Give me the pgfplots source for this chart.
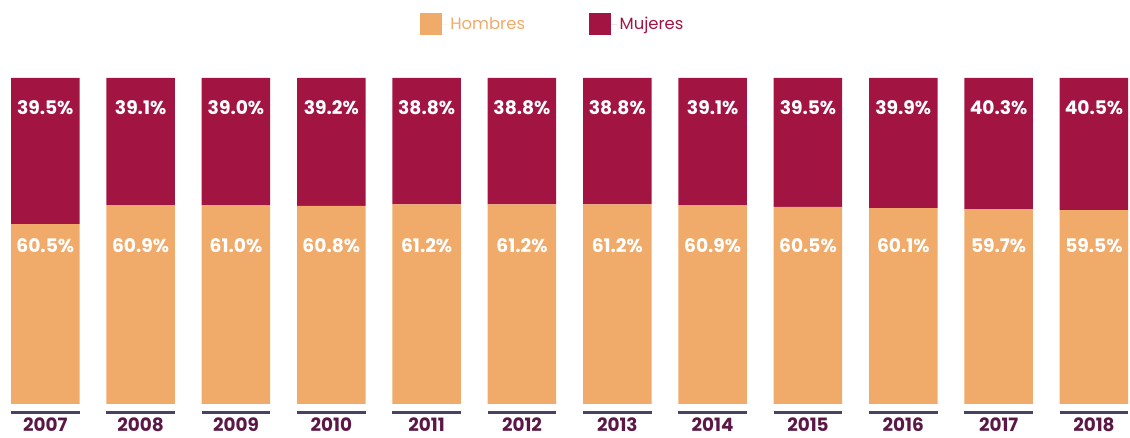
\documentclass[border=0pt]{standalone}
\usepackage{pgfplots}
\usepackage{pgfplotstable}
\pgfplotsset{compat=1.18}
\usepackage{fontspec}
\setmainfont{Poppins}
\definecolor{hom}{HTML}{F0AA6A}
\definecolor{muj}{HTML}{A21441}
\definecolor{yearc}{HTML}{5B1846}
\definecolor{linec}{HTML}{4A4262}
\pgfplotstableread{
x year h m hl ml lh lm
0 2007 55.2 44.8 60.5 39.5 46.6 88.9
1 2008 60.9 39.1 60.9 39.1 46.6 88.9
2 2009 61.0 39.0 61.0 39.0 46.6 88.9
3 2010 60.8 39.2 60.8 39.2 46.6 88.9
4 2011 61.2 38.8 61.2 38.8 46.6 88.9
5 2012 61.2 38.8 61.2 38.8 46.6 88.9
6 2013 61.2 38.8 61.2 38.8 46.6 88.9
7 2014 60.9 39.1 60.9 39.1 46.6 88.9
8 2015 60.5 39.5 60.5 39.5 46.6 88.9
9 2016 60.1 39.9 60.1 39.9 46.6 88.9
10 2017 59.7 40.3 59.7 40.3 46.6 88.9
11 2018 59.5 40.5 59.5 40.5 46.6 88.9
}\datatable
\begin{document}
\begin{tikzpicture}
\useasboundingbox (0,-25.5pt) rectangle (847.5pt,303pt);
\pgfplotsset{
  common/.style={
    at={(0,0)}, anchor=south west,
    scale only axis, width=847.5pt, height=244.5pt,
    xmin=-0.475, xmax=11.378, ymin=0, ymax=100,
    axis line style={draw=none}, major tick length=0pt,
    ytick=\empty, clip=false,
  }
}
\begin{axis}[common,
  ybar stacked, bar width=51.4pt,
  xtick=data, xticklabels from table={\datatable}{year},
  xticklabel style={anchor=base, inner sep=0pt, yshift=-20.6pt, font=\bfseries\fontsize{13.8}{16}\selectfont, text=yearc},
  legend columns=2,
  legend style={draw=none, fill=none, inner sep=0pt, at={(rel axis cs:0.3712,1.1994)}, anchor=north west,
    font=\fontsize{12.3}{15}\selectfont,
    /tikz/every even column/.append style={column sep=46pt}},
  legend image code/.code={\fill[#1] (0pt,-8.25pt) rectangle (16.5pt,8.25pt); \path (0pt,0pt) -- (21pt,0pt);},
]
\addplot[fill=hom, draw=none] table[x=x, y=h] {\datatable};
\addlegendentry{\textcolor{hom}{Hombres}}
\addplot[fill=muj, draw=none] table[x=x, y=m] {\datatable};
\addlegendentry{\textcolor{muj}{Mujeres}}
\pgfplotsinvokeforeach{0,...,11}{
  \draw[linec, line width=2pt] ([yshift=-6.2pt]axis cs:#1-0.3595,0) -- ([yshift=-6.2pt]axis cs:#1+0.3595,0);
}
\end{axis}
\begin{axis}[common, hide axis,
  nodes near coords={\pgfplotspointmeta\%},
  every node near coord/.append style={anchor=base, text=white, font=\bfseries\fontsize{14}{16}\selectfont},
]
\addplot[only marks, mark=*, mark size=0pt, mark options={draw=none, fill=none}, point meta=explicit symbolic]
  table[x=x, y=lh, meta=hl] {\datatable};
\addplot[only marks, mark=*, mark size=0pt, mark options={draw=none, fill=none}, point meta=explicit symbolic]
  table[x=x, y=lm, meta=ml] {\datatable};
\end{axis}
\end{tikzpicture}
\end{document}
